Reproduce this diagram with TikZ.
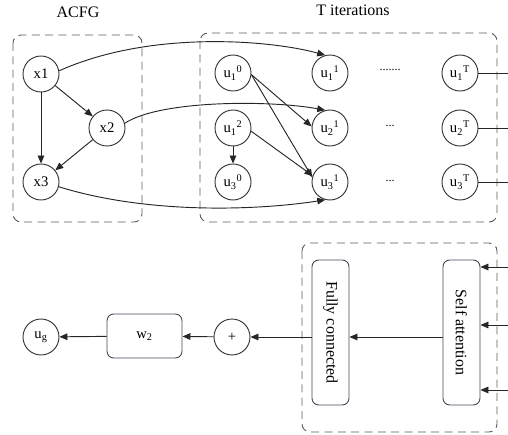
\documentclass[tikz,border=0pt]{standalone}
\usepackage{fontspec}
\setmainfont{Liberation Serif}
\usetikzlibrary{arrows.meta}
\definecolor{boxline}{RGB}{70,70,90}
\definecolor{grpline}{RGB}{90,90,100}

\begin{document}
\begin{tikzpicture}[x=0.75pt, y=-0.75pt, >={Triangle[length=6pt,width=5pt]},
    every node/.style={font=\fontsize{11}{13}\selectfont},
    vert/.style={draw=black!80, line width=0.7pt, circle, minimum size=27pt, inner sep=0pt},
    blk/.style={draw=boxline, line width=0.7pt, rounded corners=5pt, inner sep=0pt},
    grp/.style={draw=grpline, line width=0.7pt, dash pattern=on 6pt off 4pt, rounded corners=6pt},
    edge/.style={->, black!85, line width=0.7pt},
    title/.style={font=\fontsize{12}{14}\selectfont}]
    \useasboundingbox (0,0) rectangle (508,435);
    % dashed groups
    \draw[grp] (13,35) rectangle (142,222);
    \draw[grp] (200,33) rectangle (497,222);
    \draw[grp] (302,243) rectangle (497,432);
    \node[title] (acfg) at (78,12) {ACFG};
    \node[title] (titer) at (353,10) {T iterations};
    % ACFG
    \node[vert] (x1) at (41,74) {x1};
    \node[vert] (x2) at (107,128) {x2};
    \node[vert] (x3) at (41,182) {x3};
    % iterations
    \node[vert] (u10) at (233,73) {u\textsubscript{1}\textsuperscript{0}};
    \node[vert] (u12) at (233,128) {u\textsubscript{1}\textsuperscript{2}};
    \node[vert] (u30) at (233,182) {u\textsubscript{3}\textsuperscript{0}};
    \node[vert] (u11) at (330,73) {u\textsubscript{1}\textsuperscript{1}};
    \node[vert] (u21) at (330,128) {u\textsubscript{2}\textsuperscript{1}};
    \node[vert] (u31) at (330,182) {u\textsubscript{3}\textsuperscript{1}};
    \node[vert] (u1T) at (460,73) {u\textsubscript{1}\textsuperscript{T}};
    \node[vert] (u2T) at (460,128) {u\textsubscript{2}\textsuperscript{T}};
    \node[vert] (u3T) at (460,182) {u\textsubscript{3}\textsuperscript{T}};
    \node[font=\fontsize{9}{9}\selectfont] (dots1) at (390,70) {.......};
    \node[font=\fontsize{9}{9}\selectfont] (dots2) at (390,126) {...};
    \node[font=\fontsize{9}{9}\selectfont] (dots3) at (390,181) {...};
    \draw[edge] (x1) -- (x2);
    \draw[edge] (x1) -- (x3);
    \draw[edge] (x2) -- (x3);
    \draw[edge] (x1.10) .. controls (150,30) and (270,40) .. (u11.105);
    \draw[edge] (x2.15) .. controls (160,100) and (270,100) .. (u21.105);
    \draw[edge] (x3.-15) .. controls (150,215) and (260,210) .. (u31.-105);
    \draw[edge] (u10.-5) -- (u21.175);
    \draw[edge] (u10.-5) -- (u31.165);
    \draw[edge] (u12.-10) -- (u31.160);
    \draw[edge] (u12) -- (u30);
    \coordinate (o1) at (508,73);
    \coordinate (o2) at (508,128);
    \coordinate (o3) at (508,182);
    \foreach \i in {1,2,3} {\draw[black!85, line width=0.7pt] (u\i T) -- (o\i);}
    % readout
    \node[vert] (ug) at (41,337) {u\textsubscript{g}};
    \node[blk, minimum width=56.25pt, minimum height=33pt] (w2) at (144.5,336) {w\textsubscript{2}};
    \node[vert] (plus) at (232,337) {+};
    \node[blk, minimum width=27.75pt, minimum height=108.75pt, font=\fontsize{12}{14}\selectfont] (fc) at (330.5,332.5) {\rotatebox{-90}{Fully connected}};
    \node[blk, minimum width=27.75pt, minimum height=108.75pt, font=\fontsize{12}{14}\selectfont] (sa) at (461.5,332.5) {\rotatebox{-90}{Self attention}};
    \coordinate (in1) at (508,267);
    \coordinate (in2) at (508,325);
    \coordinate (in3) at (508,390);
    \foreach \i in {1,2,3} {\draw[edge] (in\i) -- (in\i -| sa.east);}
    \draw[edge] (sa.west |- plus) -- (fc.east |- plus);
    \draw[edge] (fc.west |- plus) -- (plus);
    \draw[edge] (plus) -- (w2);
    \draw[edge] (w2) -- (ug);
\end{tikzpicture}
\end{document}
